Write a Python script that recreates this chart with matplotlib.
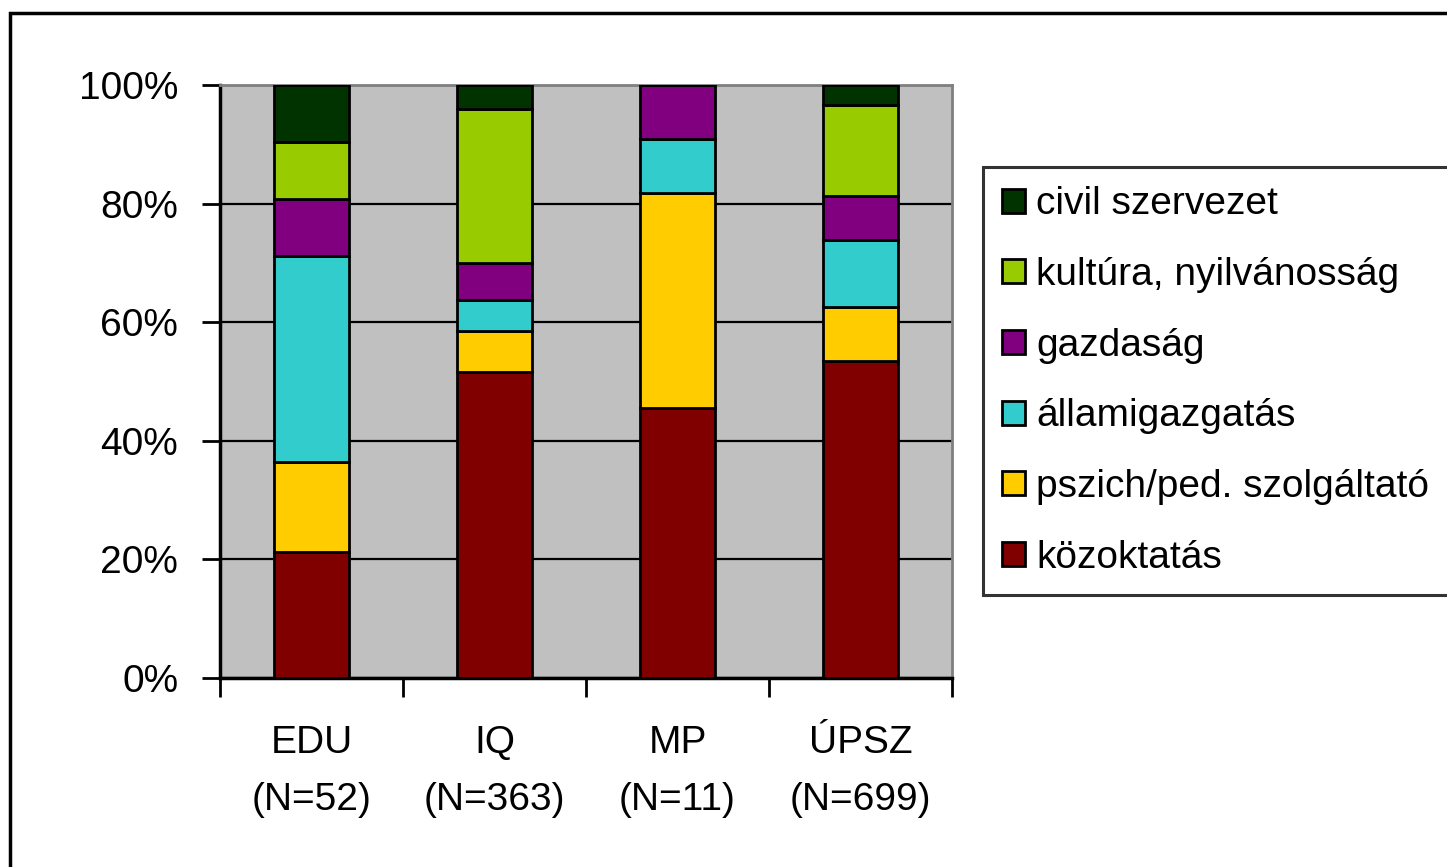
import matplotlib.pyplot as plt
import matplotlib.patches as mpatches
import numpy as np

plt.rcParams['font.family'] = ['Liberation Sans', 'DejaVu Sans']

# groups and cumulative shares (percent)
groups = ["EDU\n(N=52)", "IQ\n(N=363)", "MP\n(N=11)", "ÚPSZ\n(N=699)"]
categories = ["közoktatás", "pszich/ped. szolgáltató", "államigazgatás",
              "gazdaság", "kultúra, nyilvánosság", "civil szervezet"]
kozoktatas = [21.2, 51.6, 45.5, 53.5]
pszich = [15.3, 7.0, 36.3, 9.0]
allamig = [34.6, 5.1, 9.1, 11.4]
gazdasag = [9.7, 6.2, 9.1, 7.4]
kultura = [9.6, 26.1, 0.0, 15.3]
civil = [9.6, 4.0, 0.0, 3.4]
colors = ["#800000", "#FFCC00", "#33CCCC", "#800080", "#99CC00", "#003300"]

series = [kozoktatas, pszich, allamig, gazdasag, kultura, civil]

fig = plt.figure(figsize=(14.47, 8.67), dpi=100)
ax = fig.add_axes([220 / 1447, 1 - 678 / 867, 732 / 1447, 593 / 867])
ax.set_facecolor("#C0C0C0")

x = np.arange(len(groups))
bottom = np.zeros(len(groups))
for vals, col in zip(series, colors):
    vals = np.array(vals)
    ax.bar(x, vals, bottom=bottom, width=0.415, color=col,
           edgecolor="black", linewidth=2.0, zorder=3)
    bottom += vals

ax.set_xlim(-0.5, len(groups) - 0.5)
ax.set_ylim(0, 100)
ax.set_yticks(np.arange(0, 101, 20))
ax.set_yticklabels([f"{v}%" for v in range(0, 101, 20)])
ax.yaxis.grid(True, color="black", linewidth=1.6, zorder=1)
ax.set_axisbelow(True)

# x ticks at category boundaries, labels centred under bars
ax.set_xticks(np.arange(-0.5, len(groups), 1.0))
ax.set_xticklabels([])
ax.set_xticks(x, minor=True)
ax.set_xticklabels(groups, minor=True, fontsize=28, linespacing=1.75)
ax.tick_params(axis="x", which="major", length=14, width=2, direction="out")
ax.tick_params(axis="x", which="minor", length=0, pad=34)
ax.tick_params(axis="y", length=13, width=2, direction="out", labelsize=28, pad=17)

for side in ("top", "right"):
    ax.spines[side].set_color("#808080")
    ax.spines[side].set_linewidth(2)
for side in ("left", "bottom"):
    ax.spines[side].set_color("black")
    ax.spines[side].set_linewidth(2.5)

handles = [mpatches.Patch(facecolor=c, edgecolor="black", linewidth=2)
           for c in colors[::-1]]
leg = fig.legend(handles, categories[::-1], loc="upper left",
                 bbox_to_anchor=(983 / 1447, 1 - 167 / 867),
                 fontsize=28, frameon=True, fancybox=False, shadow=False,
                 handlelength=0.57, handleheight=0.57, handletextpad=0.3,
                 labelspacing=0.89, borderpad=0.5, borderaxespad=0)
leg.get_frame().set_edgecolor("black")
leg.get_frame().set_linewidth(2.2)

# outer chart border
fig.patches.append(mpatches.Rectangle((10 / 1447, -0.05), 1.1, 1 - 13 / 867 + 0.05,
                                      transform=fig.transFigure, fill=False,
                                      edgecolor="black", linewidth=2.5))

fig.savefig("out.png", dpi=100)
